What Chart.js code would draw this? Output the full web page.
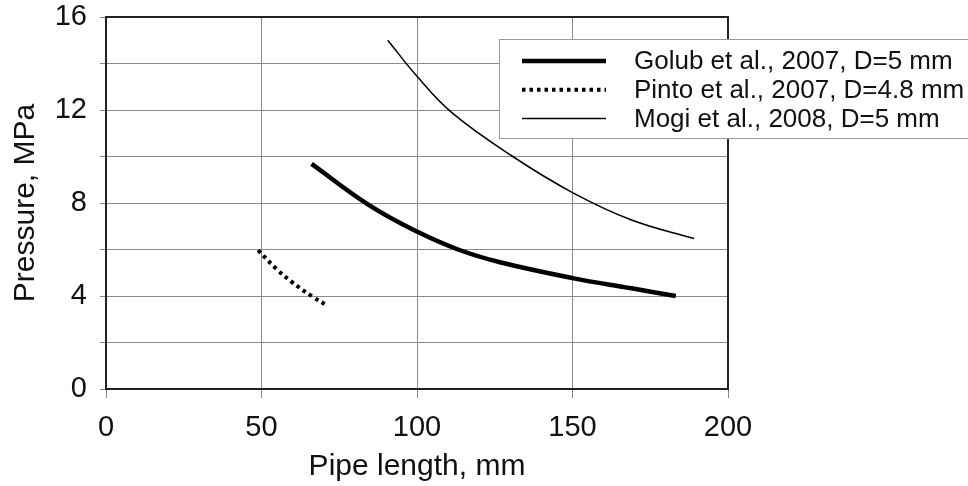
<!DOCTYPE html>
<html>
<head>
<meta charset="utf-8">
<script src="https://cdn.jsdelivr.net/npm/chart.js@4.4.1/dist/chart.umd.min.js"></script>
<style>
  html, body { margin: 0; padding: 0; background: #fff; }
  #wrap { width: 968px; height: 486px; }
</style>
</head>
<body>
<div id="wrap"><canvas id="c"></canvas></div>
<script>
/* ---------- data ---------- */
const seriesNames = [
  "Golub et al., 2007, D=5 mm",
  "Pinto et al., 2007, D=4.8 mm",
  "Mogi et al., 2008, D=5 mm"
];

const golubLength = [66.1, 84.7, 100, 113.2, 126.7, 150, 169, 183.2];
const golubPressure = [9.68, 7.9, 6.77, 6.0, 5.45, 4.77, 4.33, 4.0];

const pintoLength = [48.9, 55, 59.6, 66.3, 71.4];
const pintoPressure = [5.97, 5.14, 4.62, 3.98, 3.57];

const mogiLength = [90.6, 100, 111.1, 130.8, 150, 169, 189.1];
const mogiPressure = [15.0, 13.45, 11.9, 10.0, 8.45, 7.27, 6.47];

const xTicks = [0, 50, 100, 150, 200];
const yTicks = [0, 4, 8, 12, 16];

function pts(xs, ys) {
  return xs.map((x, i) => ({ x: x, y: ys[i] }));
}

const FONT = "'Liberation Sans', Arial, sans-serif";

/* ---------- frame + legend box ---------- */
const framePlugin = {
  id: "frame",
  afterDatasetsDraw(chart) {
    const { ctx, chartArea: a } = chart;
    ctx.save();
    ctx.strokeStyle = "#222";
    ctx.lineWidth = 2;
    ctx.strokeRect(a.left, a.top, a.right - a.left, a.bottom - a.top);
    ctx.restore();
  }
};

const legendPlugin = {
  id: "boxLegend",
  afterDraw(chart) {
    const ctx = chart.ctx;
    const bx = 499, by = 39, bw = 480, bh = 99;
    ctx.save();
    ctx.fillStyle = "#fff";
    ctx.fillRect(bx, by, bw, bh);
    ctx.strokeStyle = "#999";
    ctx.lineWidth = 1;
    ctx.strokeRect(bx + 0.5, by + 0.5, bw, bh);

    ctx.font = "26px " + FONT;
    ctx.textBaseline = "middle";
    ctx.fillStyle = "#111";
    chart.data.datasets.forEach((ds, i) => {
      const y = 61 + i * 28.7;
      ctx.beginPath();
      ctx.strokeStyle = ds.borderColor;
      ctx.lineWidth = ds.borderWidth;
      ctx.setLineDash(ds.borderDash || []);
      ctx.moveTo(522, y);
      ctx.lineTo(606, y);
      ctx.stroke();
      ctx.setLineDash([]);
      ctx.fillText(ds.label, 634, y + 1);
    });
    ctx.restore();
  }
};

new Chart(document.getElementById("c"), {
  type: "scatter",
  data: {
    datasets: [
      {
        label: seriesNames[0],
        data: pts(golubLength, golubPressure),
        showLine: true,
        borderColor: "#000",
        borderWidth: 4.5,
        tension: 0.4,
        pointRadius: 0
      },
      {
        label: seriesNames[1],
        data: pts(pintoLength, pintoPressure),
        showLine: true,
        borderColor: "#000",
        borderWidth: 4,
        borderDash: [3.5, 4],
        tension: 0.4,
        pointRadius: 0
      },
      {
        label: seriesNames[2],
        data: pts(mogiLength, mogiPressure),
        showLine: true,
        borderColor: "#000",
        borderWidth: 1.5,
        tension: 0.4,
        pointRadius: 0
      }
    ]
  },
  options: {
    responsive: true,
    maintainAspectRatio: false,
    animation: false,
    layout: { padding: { top: 17, right: 240, left: 0, bottom: 0 } },
    plugins: {
      legend: { display: false },
      tooltip: { enabled: false }
    },
    scales: {
      x: {
        type: "linear",
        min: xTicks[0],
        max: xTicks[xTicks.length - 1],
        afterFit(scale) { scale.height = 97; },
        afterBuildTicks(scale) { scale.ticks = xTicks.map(v => ({ value: v })); },
        border: { display: false },
        grid: {
          color: "#8a8a8a",
          lineWidth: 1,
          tickLength: 9,
          tickColor: "#8a8a8a"
        },
        ticks: {
          color: "#111",
          padding: 13,
          font: { family: FONT, size: 29 },
          maxRotation: 0
        },
        title: {
          display: true,
          text: "Pipe length, mm",
          color: "#111",
          font: { family: FONT, size: 30 },
          padding: { top: 0, bottom: 1 }
        }
      },
      y: {
        type: "linear",
        min: yTicks[0],
        max: yTicks[yTicks.length - 1],
        afterFit(scale) {
          scale.width = 106;
          scale.paddingTop = 0;
          scale.paddingBottom = 0;
        },
        border: { display: false },
        grid: {
          color: "#8a8a8a",
          lineWidth: 1,
          tickLength: 6,
          tickColor: "#8a8a8a"
        },
        ticks: {
          stepSize: 2,
          autoSkip: false,
          color: "#111",
          padding: 13,
          font: { family: FONT, size: 29 },
          callback: v => (yTicks.includes(v) ? v : "")
        },
        title: {
          display: true,
          text: "Pressure, MPa",
          color: "#111",
          font: { family: FONT, size: 30 },
          padding: { top: 8, bottom: 0 }
        }
      }
    }
  },
  plugins: [framePlugin, legendPlugin]
});
</script>
</body>
</html>
